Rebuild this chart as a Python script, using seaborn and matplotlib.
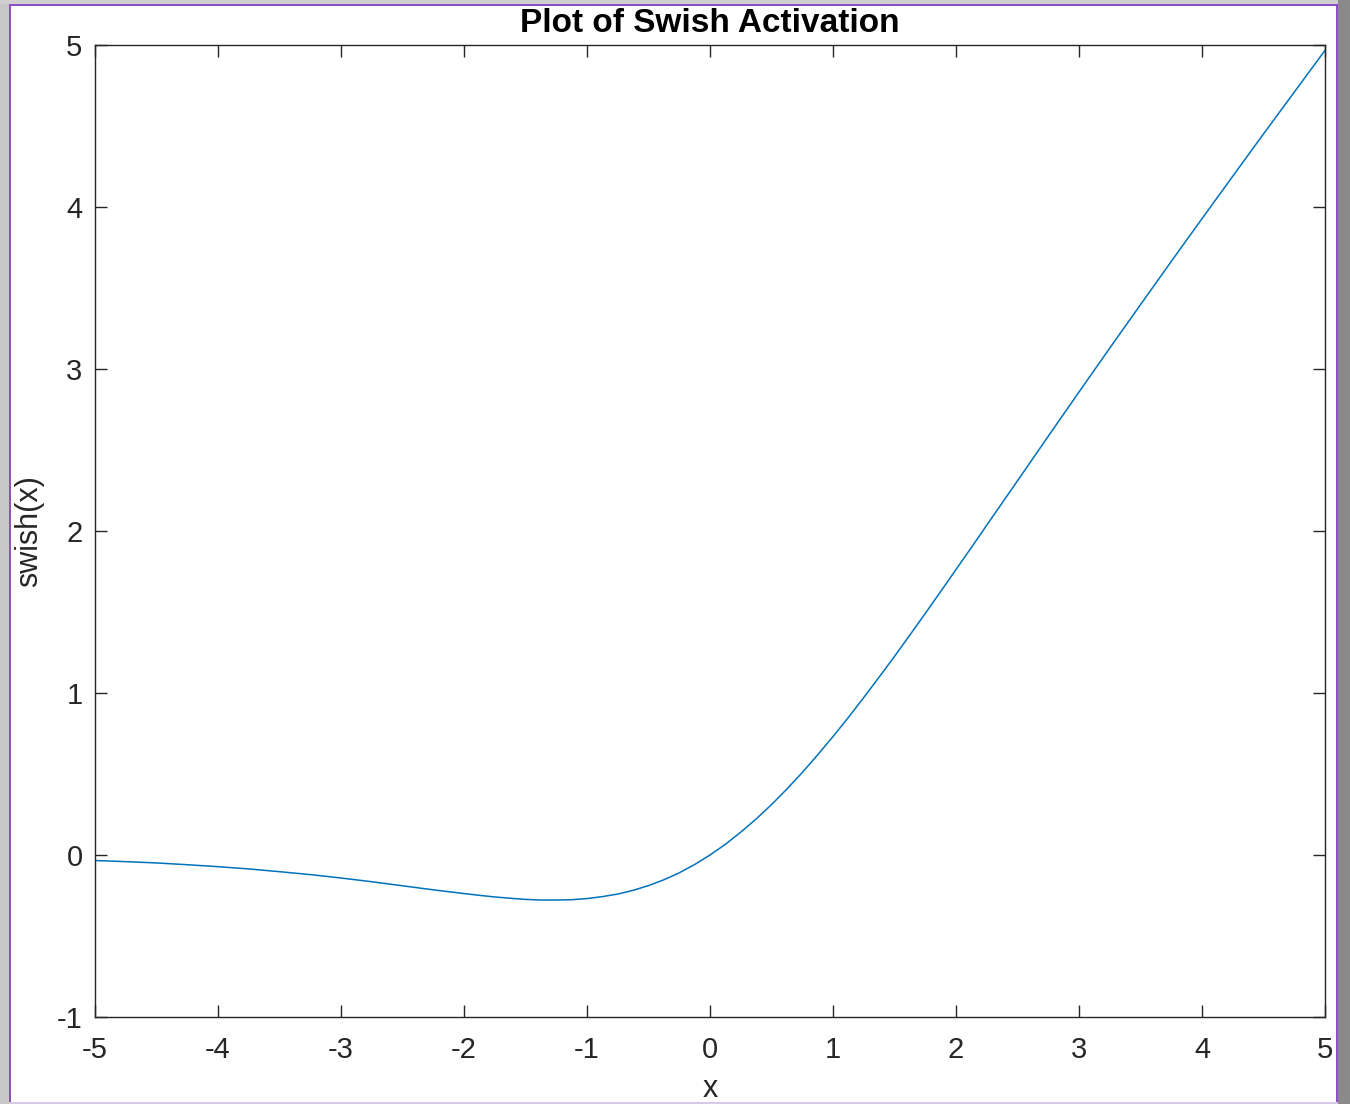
import numpy as np
import pandas as pd
import matplotlib
matplotlib.use("Agg")
import matplotlib.pyplot as plt
from matplotlib.patches import Rectangle
import seaborn as sns

# Data
x_vals = [-5.0, -4.75, -4.5, -4.25, -4.0, -3.75, -3.5, -3.25, -3.0, -2.75,
          -2.5, -2.25, -2.0, -1.875, -1.75, -1.625, -1.5, -1.375, -1.25, -1.125,
          -1.0, -0.875, -0.75, -0.625, -0.5, -0.375, -0.25, -0.125,
          0.0, 0.125, 0.25, 0.375, 0.5, 0.625, 0.75, 0.875, 1.0, 1.125,
          1.25, 1.375, 1.5, 1.625, 1.75, 1.875, 2.0, 2.125, 2.25,
          2.5, 2.75, 3.0, 3.25, 3.5, 3.75, 4.0, 4.25, 4.5, 4.75, 5.0]
swish_vals = [-0.034, -0.041, -0.049, -0.060, -0.072, -0.086, -0.103, -0.121, -0.142, -0.165,
              -0.190, -0.215, -0.238, -0.249, -0.259, -0.267, -0.274, -0.278, -0.278, -0.276,
              -0.269, -0.257, -0.241, -0.218, -0.189, -0.153, -0.110, -0.059,
              0.000, 0.066, 0.141, 0.222, 0.311, 0.407, 0.509, 0.618, 0.731, 0.849,
              0.972, 1.098, 1.226, 1.358, 1.491, 1.626, 1.762, 1.898, 2.036,
              2.310, 2.585, 2.858, 3.129, 3.397, 3.664, 3.928, 4.190, 4.451, 4.709, 4.967]
x_ticks = [-5, -4, -3, -2, -1, 0, 1, 2, 3, 4, 5]
y_ticks = [-1, 0, 1, 2, 3, 4, 5]
title_text = "Plot of Swish Activation"
x_label = "x"
y_label = "swish(x)"

sns.set_style("white")
plt.rcParams['font.family'] = ['Liberation Sans', 'DejaVu Sans']

W, H = 1350, 1104
fig = plt.figure(figsize=(W / 100, H / 100), dpi=100)
fig.patch.set_facecolor("white")

# window frame decoration (gray strips and purple border)
def px_rect(x0, y0, x1, y1, color):
    fig.patches.append(Rectangle((x0 / W, 1 - y1 / H), (x1 - x0) / W, (y1 - y0) / H,
                                 transform=fig.transFigure, facecolor=color,
                                 edgecolor="none", zorder=-10))

px_rect(0, 0, 9, H, "#c8c8c8")
px_rect(0, 0, W, 4, "#cfcfcf")
px_rect(1338, 0, W, H, "#8a8a8a")
px_rect(9, 4, 11, H, "#8e4fc9")
px_rect(9, 4, 1338, 6, "#8e4fc9")
px_rect(1336, 4, 1338, H, "#8e4fc9")
px_rect(9, 1102, 1338, H, "#d6c8ea")

ax = fig.add_axes([95 / W, 1 - 1017 / H, (1325 - 95) / W, (1017 - 45) / H])
df = pd.DataFrame({"x": x_vals, "y": swish_vals})
sns.lineplot(data=df, x="x", y="y", ax=ax, color="#0072BD", linewidth=1.1)

ax.set_xlim(-5, 5)
ax.set_ylim(-1, 5)
ax.set_xticks(x_ticks)
ax.set_yticks(y_ticks)
ax.set_xticklabels([str(v) for v in x_ticks])
ax.set_yticklabels([str(v) for v in y_ticks])
ax.tick_params(direction="in", length=8.5, width=1.0, color="#262626",
               labelsize=21, labelcolor="#262626", top=True, right=True,
               bottom=True, left=True)
ax.tick_params(axis="x", pad=14)
ax.tick_params(axis="y", pad=9)
for sp in ax.spines.values():
    sp.set_visible(True)
    sp.set_color("#262626")
    sp.set_linewidth(1.0)

ax.set_title(title_text, fontsize=24, fontweight="bold", color="black", pad=9)
ax.set_xlabel(x_label, fontsize=22, color="#262626", labelpad=7)
ax.set_ylabel(y_label, fontsize=22, color="#262626", labelpad=9)

fig.savefig("out.png", dpi=100)
